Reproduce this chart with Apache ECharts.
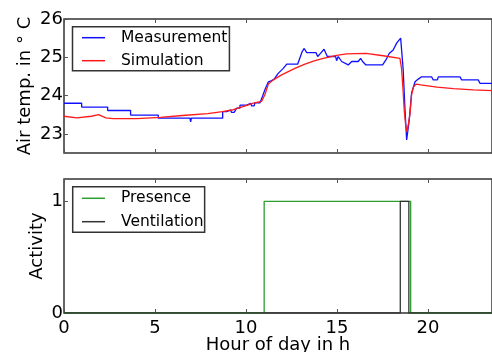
<!DOCTYPE html>
<html><head><meta charset="utf-8">
<script src="https://cdn.jsdelivr.net/npm/echarts@6/dist/echarts.min.js"></script>
<style>html,body{margin:0;padding:0;background:#fff}#c{width:492px;height:352px}</style>
</head><body><div id="c"></div>
<script>
// ---- data ----
const xTicks = [0, 5, 10, 15, 20];
const tempTicks = [23, 24, 25, 26];
const activityTicks = [0, 1];

const measurementHours = [0,0.97,0.97,2.40,2.40,3.66,3.66,5.18,5.18,6.92,6.96,7.0,8.72,8.72,8.94,8.94,9.15,9.21,9.35,9.49,9.67,9.67,10.04,10.04,10.26,10.31,10.45,10.49,10.77,10.77,10.90,11.04,11.23,11.41,11.55,11.77,12.05,12.24,12.84,13.09,13.20,13.34,13.85,13.94,14.07,14.16,14.29,14.47,14.93,14.98,15.07,15.26,15.62,15.81,16.17,16.30,16.41,16.59,17.51,17.69,17.87,18.09,18.28,18.50,18.64,18.74,18.83,18.97,19.10,19.29,19.47,19.65,20.20,20.29,20.52,20.57,21.76,21.85,22.76,22.86,24];
const measurementTemps = [23.80,23.80,23.70,23.70,23.61,23.61,23.49,23.49,23.41,23.41,23.31,23.41,23.41,23.58,23.58,23.62,23.62,23.56,23.56,23.67,23.67,23.75,23.75,23.80,23.80,23.73,23.73,23.81,23.81,23.86,23.97,24.15,24.36,24.39,24.43,24.58,24.71,24.82,24.82,25.15,25.23,25.12,25.12,25.02,25.09,25.09,25.21,25.02,25.02,24.91,25.02,24.89,24.80,24.89,24.89,24.97,24.89,24.80,24.80,24.93,25.10,25.19,25.37,25.50,24.67,23.62,22.84,23.36,24.06,24.36,24.43,24.49,24.49,24.41,24.41,24.49,24.49,24.41,24.41,24.32,24.32];

const simulationHours = [0,0.7,1.5,1.9,2.3,2.7,4,5.3,6.5,7.9,8.7,9.3,10.1,10.4,10.86,11.04,11.23,11.5,11.96,12.69,13.24,13.79,14.25,14.98,15.53,16.6,17.54,18.46,18.55,18.62,18.7,18.77,18.85,18.93,19.01,19.1,19.2,19.35,19.6,20.5,21.4,22.5,24];
const simulationTemps = [23.46,23.42,23.46,23.50,23.42,23.40,23.40,23.43,23.48,23.53,23.58,23.63,23.75,23.80,23.85,24.02,24.30,24.41,24.54,24.71,24.82,24.91,24.97,25.05,25.09,25.10,25.04,24.97,24.70,24.23,23.60,23.25,23.05,23.02,23.50,24.02,24.22,24.30,24.28,24.22,24.18,24.15,24.12];

const presenceHours = [0, 11.0, 19.05, 24];
const presenceValues = [0, 1, 0, 0];
const ventilationHours = [0, 18.48, 18.95, 24];
const ventilationValues = [0, 1, 0, 0];

const zip = (a, b) => a.map((v, i) => [v, b[i]]);

const FONT = 'DejaVu Sans';
const X_MAX = 23.52; // right part of the day is cut off by the picture edge
const tickStyle = { show: true, inside: true, length: 4, lineStyle: { color: '#555', width: 1 } };

function xAxisBase(gridIndex, showLabels, position) {
  return {
    type: 'value', gridIndex, min: 0, max: X_MAX, position,
    axisLine: { show: false }, splitLine: { show: false },
    axisTick: Object.assign({ customValues: xTicks }, tickStyle),
    axisLabel: { show: showLabels, customValues: xTicks, color: '#000', fontFamily: FONT, fontSize: 18, margin: 6 }
  };
}

function legendBase(names, left, top, gap, padding) {
  return {
    data: names, orient: 'vertical', left, top, icon: 'rect',
    itemWidth: 23, itemHeight: 1.5, itemGap: gap, padding,
    borderColor: '#333', borderWidth: 1.5, backgroundColor: '#fff', borderRadius: 0,
    textStyle: { color: '#000', fontFamily: FONT, fontSize: 15.5, lineHeight: 18, padding: [0, 0, 0, 11] }
  };
}

const chart = echarts.init(document.getElementById('c'), null, { renderer: 'canvas' });
chart.setOption({
  animation: false,
  backgroundColor: '#fff',
  grid: [
    { left: 64, right: 0, top: 19, height: 134, show: true, outerBoundsMode: 'none', containLabel: false,
      borderColor: '#333', borderWidth: 1.5, backgroundColor: 'transparent' },
    { left: 64, right: 0, top: 179, height: 134, show: true, outerBoundsMode: 'none', containLabel: false,
      borderColor: '#333', borderWidth: 1.5, backgroundColor: 'transparent' }
  ],
  xAxis: [
    xAxisBase(0, false, 'bottom'),
    Object.assign(xAxisBase(1, true, 'bottom'), {
      name: 'Hour of day in h', nameLocation: 'middle', nameGap: 23, nameMoveOverlap: false,
      nameTextStyle: { color: '#000', fontFamily: FONT, fontSize: 18 }
    }),
    xAxisBase(0, false, 'top'),
    xAxisBase(1, false, 'top')
  ],
  yAxis: [
    {
      type: 'value', gridIndex: 0, min: 22.5, max: 26,
      axisLine: { show: false }, splitLine: { show: false },
      axisTick: Object.assign({ customValues: tempTicks }, tickStyle),
      axisLabel: { customValues: tempTicks, color: '#000', fontFamily: FONT, fontSize: 18, margin: 1 },
      name: 'Air temp. in \u00b0 C', nameLocation: 'middle', nameGap: 30, nameMoveOverlap: false,
      nameTextStyle: { color: '#000', fontFamily: FONT, fontSize: 18 }
    },
    {
      type: 'value', gridIndex: 1, min: 0, max: 1.2,
      axisLine: { show: false }, splitLine: { show: false },
      axisTick: Object.assign({ customValues: activityTicks }, tickStyle),
      axisLabel: { customValues: activityTicks, color: '#000', fontFamily: FONT, fontSize: 18, margin: 1 },
      name: 'Activity', nameLocation: 'middle', nameGap: 18, nameMoveOverlap: false,
      nameTextStyle: { color: '#000', fontFamily: FONT, fontSize: 18 }
    }
  ],
  legend: [
    legendBase(['Measurement', 'Simulation'], 72.5, 26.7, 5, [2, 2, 1, 9.5]),
    legendBase(['Presence', 'Ventilation'], 72.7, 186.7, 5.4, [2.6, 1, 1.6, 9.3])
  ],
  series: [
    { name: 'Measurement', type: 'line', xAxisIndex: 0, yAxisIndex: 0, symbol: 'none',
      data: zip(measurementHours, measurementTemps), lineStyle: { color: '#1010ff', width: 1.3 }, itemStyle: { color: '#1010ff' } },
    { name: 'Simulation', type: 'line', xAxisIndex: 0, yAxisIndex: 0, symbol: 'none',
      data: zip(simulationHours, simulationTemps), lineStyle: { color: '#ff1a1a', width: 1.3 }, itemStyle: { color: '#ff1a1a' } },
    { name: 'Presence', type: 'line', xAxisIndex: 1, yAxisIndex: 1, symbol: 'none', step: 'end',
      data: zip(presenceHours, presenceValues), lineStyle: { color: '#2e9e2e', width: 1.3 }, itemStyle: { color: '#2e9e2e' } },
    { name: 'Ventilation', type: 'line', xAxisIndex: 1, yAxisIndex: 1, symbol: 'none', step: 'end',
      data: zip(ventilationHours, ventilationValues), lineStyle: { color: '#333', width: 1.3 }, itemStyle: { color: '#333' } }
  ]
});
</script></body></html>
